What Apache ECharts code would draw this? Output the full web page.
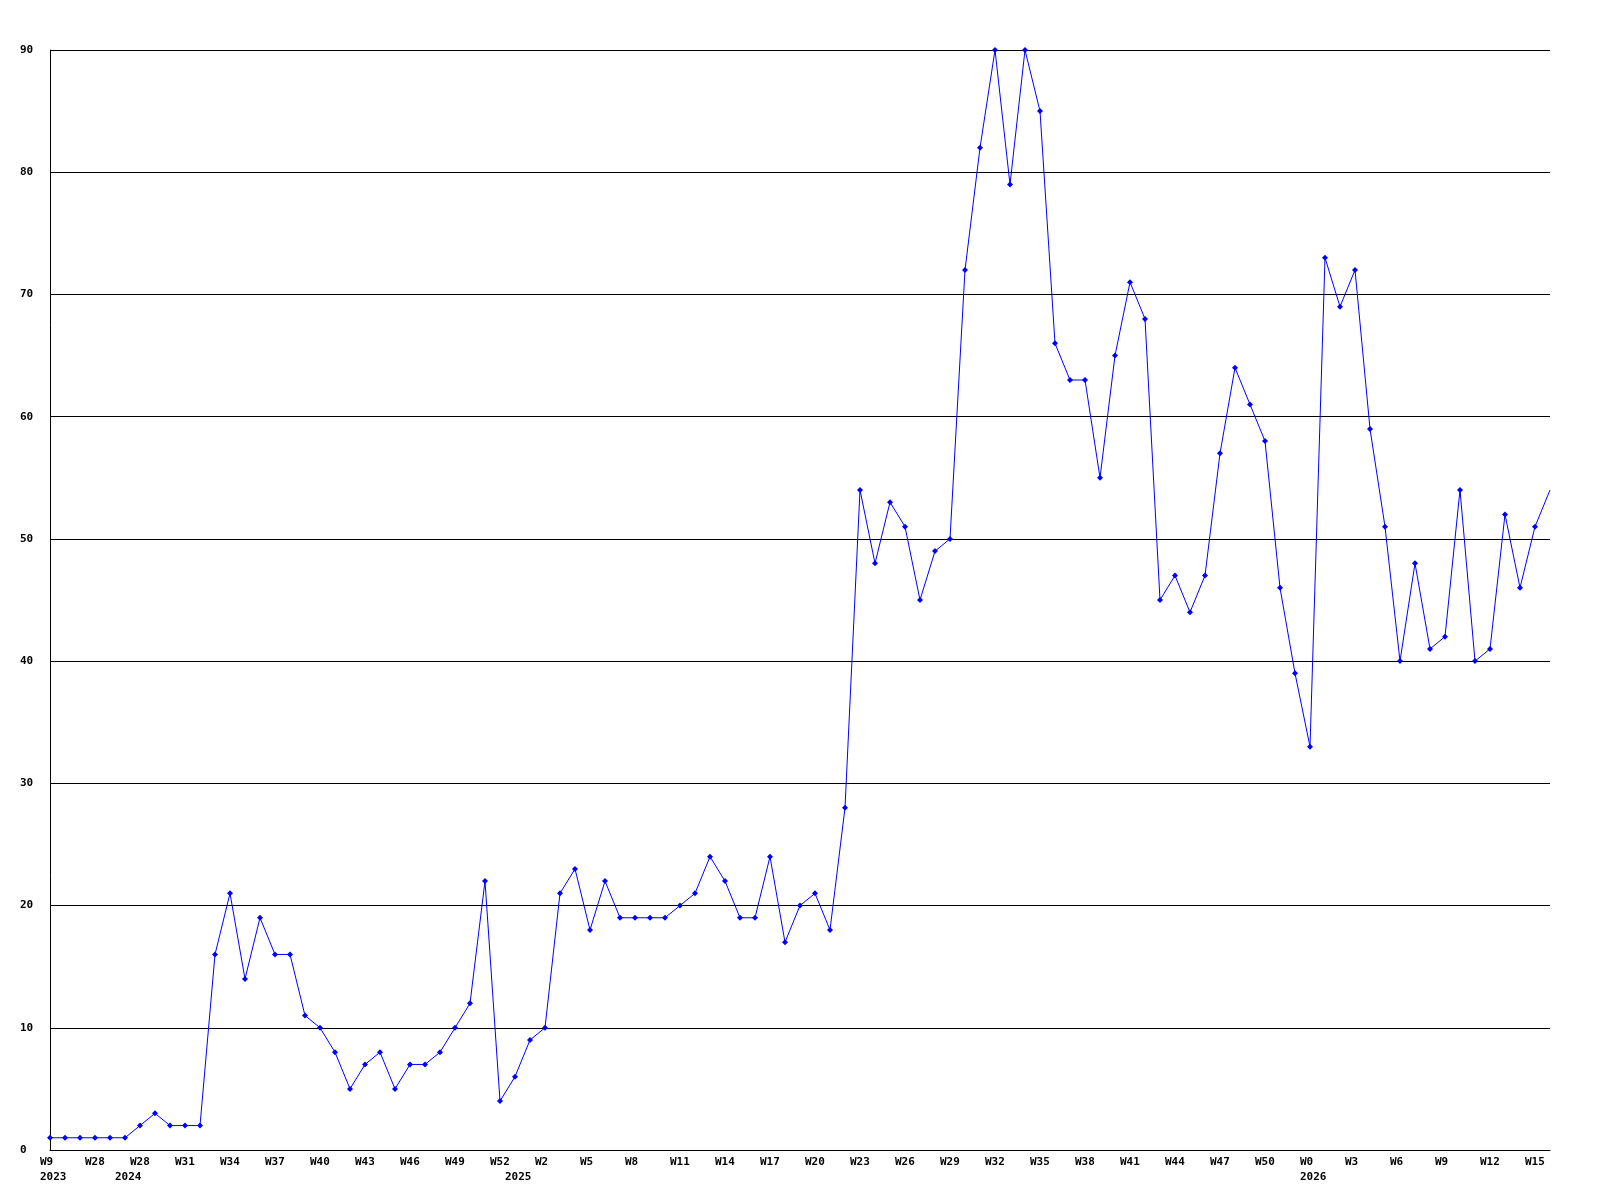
<!DOCTYPE html>
<html>
<head>
<meta charset="utf-8">
<script src="https://cdn.jsdelivr.net/npm/echarts@6/dist/echarts.min.js"></script>
<style>
html,body{margin:0;padding:0;background:#fff;}
#chart{width:1600px;height:1200px;}
</style>
</head>
<body>
<div id="chart"></div>
<script>
// Week categories (one per data point)
const weeks = [
  'W9','W14','W21','W28','W35',
  'W27','W28','W29','W30','W31','W32','W33','W34','W35','W36','W37','W38','W39','W40','W41','W42','W43','W44','W45','W46','W47','W48','W49','W50','W51','W52',
  'W0','W1','W2','W3','W4','W5','W6','W7','W8','W9','W10','W11','W12','W13','W14','W15','W16','W17','W18','W19','W20','W21','W22','W23','W24','W25','W26','W27','W28','W29','W30','W31','W32','W33','W34','W35','W36','W37','W38','W39','W40','W41','W42','W43','W44','W45','W46','W47','W48','W49','W50','W51','W52',
  'W0','W1','W2','W3','W4','W5','W6','W7','W8','W9','W10','W11','W12','W13','W14','W15','W16'
];
// Year labels: index where each year starts
const yearStarts = [0, 5, 31, 84];
const yearNames = ['2023', '2024', '2025', '2026'];

// Series values
const values = [
  1,1,1,1,1,1,2,3,2,2,
  2,16,21,14,19,16,16,11,10,8,
  5,7,8,5,7,7,8,10,12,22,
  4,6,9,10,21,23,18,22,19,19,
  19,19,20,21,24,22,19,19,24,17,
  20,21,18,28,54,48,53,51,45,49,
  50,72,82,90,79,90,85,66,63,63,
  55,65,71,68,45,47,44,47,57,64,
  61,58,46,39,33,73,69,72,59,51,
  40,48,41,42,54,40,41,52,46,51,
  54
];

// Y axis ticks
const yMin = 0, yMax = 90, yStep = 10;

const font = '"DejaVu Sans Mono", "Liberation Mono", monospace';
const chart = echarts.init(document.getElementById('chart'), null, {renderer: 'canvas'});

const seriesData = values.map((v, i) => i === values.length - 1 ? {value: v, symbol: 'none'} : v);

chart.setOption({
  backgroundColor: '#ffffff',
  animation: false,
  grid: [
    {left: 50, right: 50, top: 50, bottom: 50},
    {left: 40, right: 60, top: 50, bottom: 50}
  ],
  xAxis: [
    {
      type: 'category', gridIndex: 0, data: weeks, boundaryGap: false,
      axisLine: {show: true, lineStyle: {color: '#000', width: 1}},
      axisTick: {show: false}, axisLabel: {show: false}, splitLine: {show: false}
    },
    {
      type: 'category', gridIndex: 1, data: weeks, boundaryGap: false,
      axisLine: {show: false}, axisTick: {show: false}, splitLine: {show: false},
      axisLabel: {
        show: true, interval: 0, align: 'left', margin: 5,
        color: '#000', fontFamily: font, fontWeight: 'bold', fontSize: 11, lineHeight: 15,
        formatter: function (value, index) {
          let s = index % 3 === 0 ? value : '';
          const yi = yearStarts.indexOf(index);
          if (yi >= 0) s += '\n' + yearNames[yi];
          return s;
        }
      }
    }
  ],
  yAxis: [
    {
      type: 'value', gridIndex: 0, min: yMin, max: yMax, interval: yStep,
      axisLine: {show: true, lineStyle: {color: '#000', width: 1}},
      axisTick: {show: false},
      splitLine: {show: true, lineStyle: {color: '#000', width: 1}},
      axisLabel: {
        show: true, align: 'left', margin: 30,
        color: '#000', fontFamily: font, fontWeight: 'bold', fontSize: 11
      }
    },
    {
      type: 'value', gridIndex: 1, min: yMin, max: yMax, interval: yStep, show: false
    }
  ],
  series: [{
    type: 'line', xAxisIndex: 0, yAxisIndex: 0,
    data: seriesData,
    symbol: 'diamond', symbolSize: 6, showSymbol: true,
    itemStyle: {color: '#0000ff'},
    lineStyle: {color: '#0000ff', width: 1},
    clip: false
  }]
});
</script>
</body>
</html>
